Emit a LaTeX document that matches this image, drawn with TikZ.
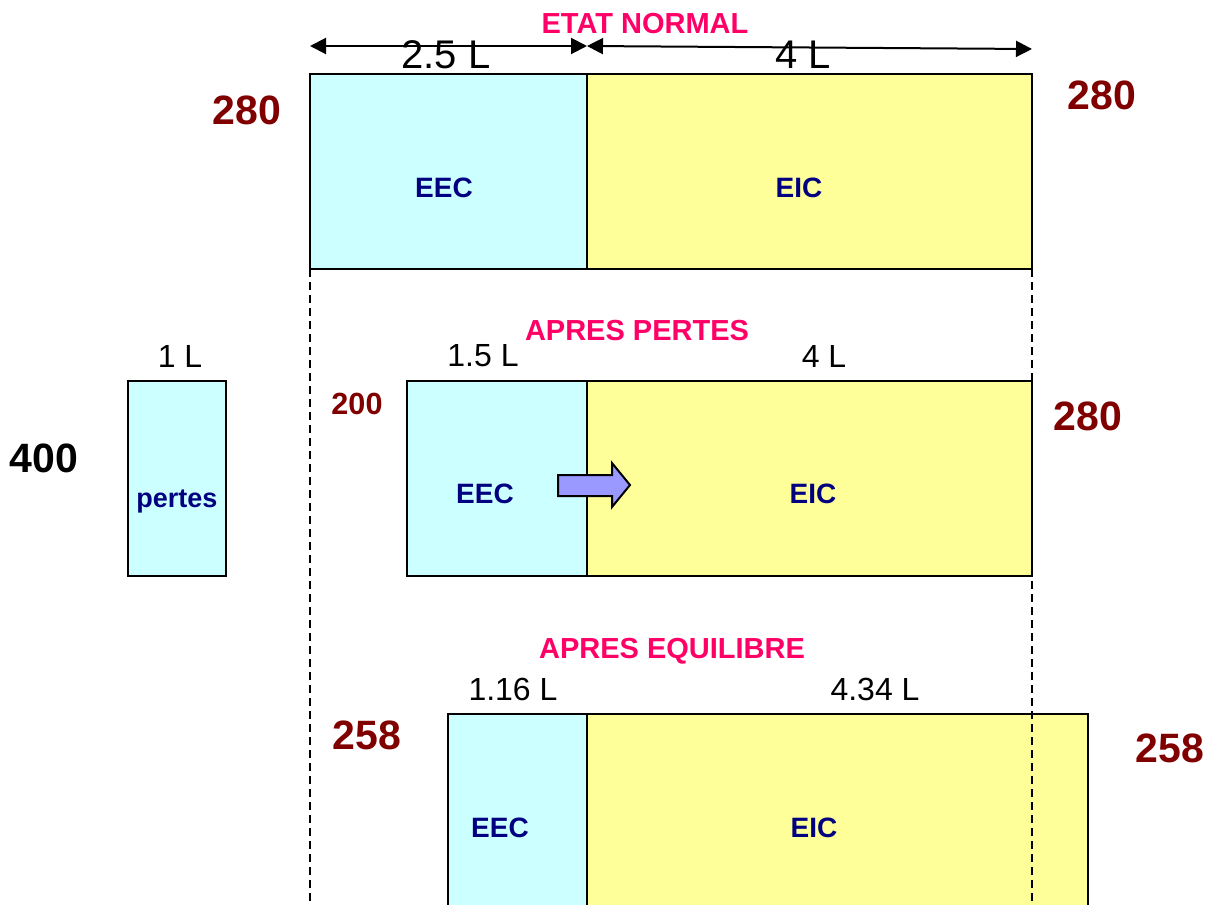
\documentclass[tikz,border=0pt]{standalone}
\usepackage{fontspec}
\setmainfont{Liberation Sans}
\usetikzlibrary{arrows.meta}
\definecolor{titlepink}{RGB}{255,0,102}
\definecolor{valred}{RGB}{128,0,0}
\definecolor{partnavy}{RGB}{0,0,128}
\definecolor{eecfill}{RGB}{204,255,255}
\definecolor{eicfill}{RGB}{255,255,153}
\definecolor{flowfill}{RGB}{153,153,255}

\begin{document}
\begin{tikzpicture}[x=0.5pt,y=-0.5pt,line join=miter,
  cell/.style={draw=black,line width=1pt,inner sep=0pt,outer sep=0pt,anchor=north west},
  eec/.style={cell,fill=eecfill},
  eic/.style={cell,fill=eicfill},
  title/.style={text=titlepink,font=\fontsize{14.5}{16}\selectfont\bfseries},
  value/.style={text=valred,font=\fontsize{20.5}{24}\selectfont\bfseries},
  part/.style={text=partnavy,font=\fontsize{14}{16}\selectfont\bfseries},
  size/.style={font=\fontsize{16}{18}\selectfont},
  dim/.style={{Triangle[length=8pt,width=8pt]}-{Triangle[length=8pt,width=8pt]},line width=1pt},
  guide/.style={line width=0.75pt,dash pattern=on 4pt off 2.5pt}]
\useasboundingbox (0,0) rectangle (1217,905);
% etat normal
\node[eec,minimum width=138.5pt,minimum height=97.5pt] (eecA) at (310,74) {};
\node[eic,minimum width=222.5pt,minimum height=97.5pt] (eicA) at (eecA.north east) {};
\coordinate (dA1) at (310,46);
\coordinate (dA2) at (587,46);
\coordinate (dA3) at (1032,49);
\draw[dim] (dA1) -- (dA2);
\draw[dim] (dA2) -- (dA3);
\node[title] (tA) at (645,24) {ETAT NORMAL};
\node[font=\fontsize{20}{22}\selectfont] (wA1) at (446,55) {2.5 L};
\node[font=\fontsize{20}{22}\selectfont] (wA2) at (803,55) {4 L};
\node[value] (vA1) at (247,110) {280};
\node[value] (vA2) at (1102,95) {280};
\node[part] (pA1) at (444,188) {EEC};
\node[part] (pA2) at (799,188) {EIC};
% apres pertes
\node[eec,minimum width=49pt,minimum height=97.5pt] (loss) at (128,381) {};
\node[eec,minimum width=90pt,minimum height=97.5pt] (eecB) at (407,381) {};
\node[eic,minimum width=222.5pt,minimum height=97.5pt] (eicB) at (eecB.north east) {};
\draw[line width=1pt,fill=flowfill] (558,475) -- (612,475) -- (612,463) -- (630,485)
  -- (612,507) -- (612,496) -- (558,496) -- cycle;
\node[title] (tB) at (637,331) {APRES PERTES};
\node[size] (wL) at (180,356) {1 L};
\node[size] (wB1) at (483,356) {1.5 L};
\node[size] (wB2) at (824,356) {4 L};
\node[font=\fontsize{20.5}{24}\selectfont\bfseries] (vL) at (44,458) {400};
\node[text=valred,font=\fontsize{15.3}{18}\selectfont\bfseries] (vB1) at (357,404) {200};
\node[value] (vB2) at (1088,416) {280};
\node[part,font=\fontsize{13.5}{16}\selectfont\bfseries,anchor=base] (pL) at (177,507) {pertes};
\node[part] (pB1) at (485,494) {EEC};
\node[part] (pB2) at (813,494) {EIC};
% apres equilibre
\node[eec,minimum width=69.5pt,minimum height=100.5pt] (eecC) at (448,714) {};
\node[eic,minimum width=250.5pt,minimum height=100.5pt] (eicC) at (eecC.north east) {};
\node[title] (tC) at (672,651) {APRES EQUILIBRE};
\node[size] (wC1) at (513,689) {1.16 L};
\node[size] (wC2) at (875,689) {4.34 L};
\node[value] (vC1) at (367,735) {258};
\node[value] (vC2) at (1170,748) {258};
\node[part] (pC1) at (500,828) {EEC};
\node[part] (pC2) at (814,828) {EIC};
% reperes
\coordinate (gL) at (310,905);
\coordinate (gR) at (1032,905);
\draw[guide] (eecA.south west) -- (gL);
\draw[guide] (eicA.south east) -- (gR);
\end{tikzpicture}
\end{document}
